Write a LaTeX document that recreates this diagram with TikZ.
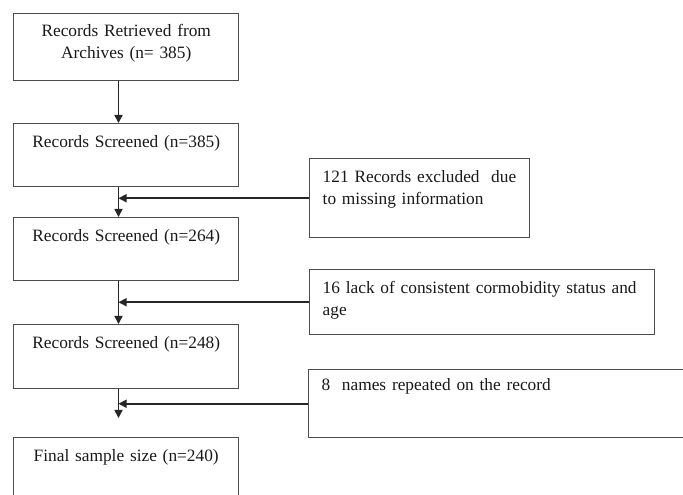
\documentclass[tikz,border=0pt]{standalone}
\usepackage{fontspec}
\setmainfont{Liberation Serif}
\usepackage{tikz}
\usetikzlibrary{arrows.meta,positioning,calc}

\begin{document}
\begin{tikzpicture}[x=0.75pt,y=-0.75pt,
  stage/.style={draw=black!70,line width=1.1pt,anchor=north west,inner xsep=4.375pt,inner ysep=0pt,
                text width=160pt,align=center,text height=18pt,text depth=29.25pt,
                font=\fontsize{13}{16.5}\selectfont,text=black!90},
  excl/.style={draw=black!70,line width=1.1pt,anchor=north west,inner xsep=9.75pt,inner ysep=0pt,
               align=left,text height=18pt,font=\fontsize{13}{16}\selectfont,text=black!90},
  arr/.style={-{Triangle[length=6pt,width=6pt]},line width=1.2pt,draw=black!85}
]
\useasboundingbox (0,0) rectangle (683,495);
\clip (0,0) rectangle (683,495);

\node[stage,text height=17.25pt,text depth=33pt] (retrieved) at (13,13) {Records Retrieved from\\Archives (n= 385)};
\node[stage] (screen1) at (13,123) {Records Screened (n=385)};
\node[stage] (screen2) at (13,217) {Records Screened (n=264)};
\node[stage,text depth=30pt] (screen3) at (13,324) {Records Screened (n=248)};
\node[stage,text depth=45pt] (final) at (13,437) {Final sample size (n=240)};

\node[excl,text width=145.5pt,text depth=41.25pt] (missing) at (309,158) {121 Records excluded\ \ due\\to missing information};
\node[excl,text width=239.25pt,text depth=30.75pt] (comorb) at (309,269) {16 lack of consistent cormobidity status and\\age};
\node[excl,text width=274.5pt,text height=15.75pt,text depth=35.25pt] (dupes) at (308,369) {8\ \ names repeated on the record};

\coordinate (spine) at (118.5,0);
\coordinate (stop) at (118.5,418);

\draw[arr] (retrieved.south -| spine) -- (screen1.north -| spine);
\draw[arr] (screen1.south -| spine) -- (screen2.north -| spine);
\draw[arr] (screen2.south -| spine) -- (screen3.north -| spine);
\draw[arr] (screen3.south -| spine) -- (stop);
\draw[arr] (missing.west) -- (missing.west -| spine);
\draw[arr] (comorb.west) -- (comorb.west -| spine);
\draw[arr] (dupes.west) -- (dupes.west -| spine);
\end{tikzpicture}
\end{document}
